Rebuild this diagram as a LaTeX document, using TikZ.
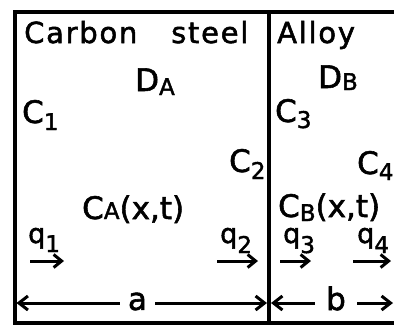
\documentclass[tikz,border=0pt]{standalone}
\usepackage{fontspec}
\setmainfont[FakeBold=1.8,AutoFakeBold=1.8]{DejaVu Sans}
\newfontfamily\labfont[LetterSpace=6,FakeBold=1.8]{DejaVu Sans}
\usetikzlibrary{arrows.meta}
\newcommand\bigsz{\fontsize{31}{31}\selectfont}
\newcommand\subsz{\fontsize{23}{23}\selectfont}
\newcommand\qsz{\fontsize{27}{27}\selectfont}
\newcommand\lowsub[2]{\raisebox{-#1}{\subsz #2}}
\begin{document}
\begin{tikzpicture}[x=1pt,y=-1pt,
  lbl/.style={anchor=base west, inner sep=0pt, font=\bigsz},
  qlbl/.style={anchor=base west, inner sep=0pt, font=\qsz},
  ttl/.style={anchor=base west, inner sep=0pt, font=\labfont\fontsize{29}{29}\selectfont},
  dimlbl/.style={inner ysep=0pt, inner xsep=8pt, font=\bigsz},
  frame/.style={line width=3.5pt},
  flux/.style={line width=3pt, -{Straight Barb[length=8pt,width=13pt]}},
  dim/.style={line width=3pt, -{Straight Barb[length=9pt,width=14pt]}}]
\useasboundingbox (0,0) rectangle (394,327);
% frame
\draw[frame] (394,12) -- (15,12) -- (15,323) -- (394,323);
\draw[frame] (269,12) -- (269,323);
% titles
\node[ttl] (carbon) at (24,43) {Carbon};
\node[ttl] (steel) at (171,43) {steel};
\node[ttl] (alloy) at (277,43) {Alloy};
% diffusivities
\node[lbl] (DA) at (135,91) {D\lowsub{4pt}{A}};
\node[lbl] (DB) at (318,88) {D\lowsub{2pt}{B}};
% concentrations
\node[lbl] (C1) at (22,123) {C\lowsub{7pt}{1}};
\node[lbl] (C2) at (229,172) {C\lowsub{7pt}{2}};
\node[lbl] (C3) at (275,122) {C\lowsub{6pt}{3}};
\node[lbl] (C4) at (357,174) {C\lowsub{6pt}{4}};
\node[lbl] (CA) at (82,219) {C\lowsub{0pt}{A}(x,t)};
\node[lbl] (CB) at (278,217) {C\lowsub{4pt}{B}(x,t)};
% fluxes
\node[qlbl] (q1) at (28,243) {q\lowsub{9pt}{1}};
\node[qlbl] (q2) at (220,243) {q\lowsub{10pt}{2}};
\node[qlbl] (q3) at (283,243) {q\lowsub{10pt}{3}};
\node[qlbl] (q4) at (357,243) {q\lowsub{10pt}{4}};
\coordinate (f1s) at (30,261);  \coordinate (f1e) at (64,261);
\coordinate (f2s) at (217,261); \coordinate (f2e) at (258,261);
\coordinate (f3s) at (280,261); \coordinate (f3e) at (311,261);
\coordinate (f4s) at (353,261); \coordinate (f4e) at (391,261);
\draw[flux] (f1s) -- (f1e);
\draw[flux] (f2s) -- (f2e);
\draw[flux] (f3s) -- (f3e);
\draw[flux] (f4s) -- (f4e);
% dimensions
\node[dimlbl] (a) at (137.5,301.5) {a};
\node[dimlbl, inner xsep=11pt] (b) at (336,298.5) {b};
\coordinate (aL) at (16.5,303);
\coordinate (aR) at (267,303);
\coordinate (bL) at (271,303);
\coordinate (bR) at (393,303);
\draw[dim] (a.west |- aL) -- (aL);
\draw[dim] (a.east |- aR) -- (aR);
\draw[dim] (b.west |- bL) -- (bL);
\draw[dim] (b.east |- bR) -- (bR);
\end{tikzpicture}
\end{document}
